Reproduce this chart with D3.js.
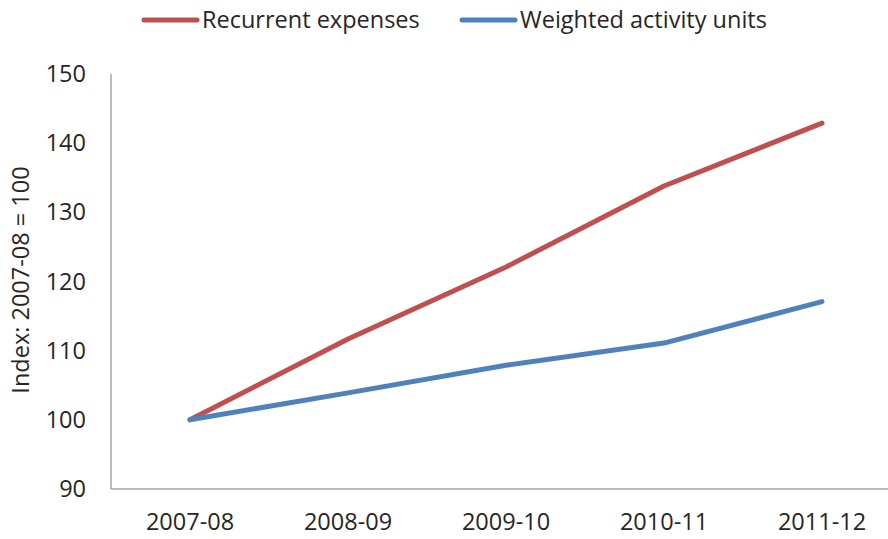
<!DOCTYPE html>
<html>
<head>
<meta charset="utf-8">
<script src="https://cdn.jsdelivr.net/npm/d3@7"></script>
<style>
  body { margin: 0; background: #fff; }
  svg text { font-family: "Open Sans", "Liberation Sans", sans-serif; fill: #262626; }
</style>
</head>
<body>
<svg id="chart" width="888" height="539"></svg>
<script>
// data
var years = ["2007-08", "2008-09", "2009-10", "2010-11", "2011-12"]
var recurrent = [100, 111.7, 122.1, 133.8, 142.9]
var weighted = [100, 103.9, 107.9, 111.1, 117.1]
var series_names = ["Recurrent expenses", "Weighted activity units"]
var series_colors = ["#c0504d", "#4f81bd"]
var y_ticks = [90, 100, 110, 120, 130, 140, 150]

var svg = d3.select("#chart")

var m_left = 111, m_right = 901, m_top = 74, m_bottom = 489

var x = d3.scaleBand()
  .domain(years)
  .range([m_left, m_right])

var y = d3.scaleLinear()
  .domain([90, 150])
  .range([m_bottom, m_top])

// axes (no tick marks, grey domain lines)
var xAxis = svg.append("g")
  .attr("transform", `translate(0,${m_bottom})`)
  .call(d3.axisBottom(x).tickSize(0).tickPadding(24))
xAxis.select(".domain").remove()
xAxis.selectAll("text")
  .style("font-size", "23.5px")
  .style("font-family", "Open Sans, sans-serif")
  .attr("fill", "#262626")

var yAxis = svg.append("g")
  .attr("transform", `translate(${m_left},0)`)
  .call(d3.axisLeft(y).tickValues(y_ticks).tickSize(0).tickPadding(25))
yAxis.select(".domain").remove()
yAxis.selectAll("text")
  .style("font-size", "23.5px")
  .style("font-family", "Open Sans, sans-serif")
  .attr("fill", "#262626")

svg.append("line")
  .attr("x1", m_left).attr("x2", m_left)
  .attr("y1", m_top).attr("y2", m_bottom)
  .attr("stroke", "#a6a6a6").attr("stroke-width", 1.5)
svg.append("line")
  .attr("x1", m_left).attr("x2", 888)
  .attr("y1", m_bottom).attr("y2", m_bottom)
  .attr("stroke", "#a6a6a6").attr("stroke-width", 1.5)

// y axis title
svg.append("text")
  .attr("transform", `translate(29,280) rotate(-90)`)
  .attr("text-anchor", "middle")
  .style("font-size", "23.5px")
  .text("Index: 2007-08 = 100")

// lines
var line = d3.line()
  .x((d, i) => x(years[i]) + x.bandwidth() / 2)
  .y(d => y(d))

;[recurrent, weighted].forEach((vals, k) => {
  svg.append("path")
    .datum(vals)
    .attr("d", line)
    .attr("fill", "none")
    .attr("stroke", series_colors[k])
    .attr("stroke-width", 5)
    .attr("stroke-linecap", "round")
    .attr("stroke-linejoin", "round")
})

// legend
var legend_x = [142, 460]
series_names.forEach((name, k) => {
  var g = svg.append("g").attr("transform", `translate(${legend_x[k]},20)`)
  g.append("line")
    .attr("x1", 2).attr("x2", 55)
    .attr("y1", 0).attr("y2", 0)
    .attr("stroke", series_colors[k])
    .attr("stroke-width", 5)
    .attr("stroke-linecap", "round")
  g.append("text")
    .attr("x", 60)
    .attr("dy", "0.35em")
    .style("font-size", "23.5px")
    .text(name)
})
</script>
</body>
</html>
